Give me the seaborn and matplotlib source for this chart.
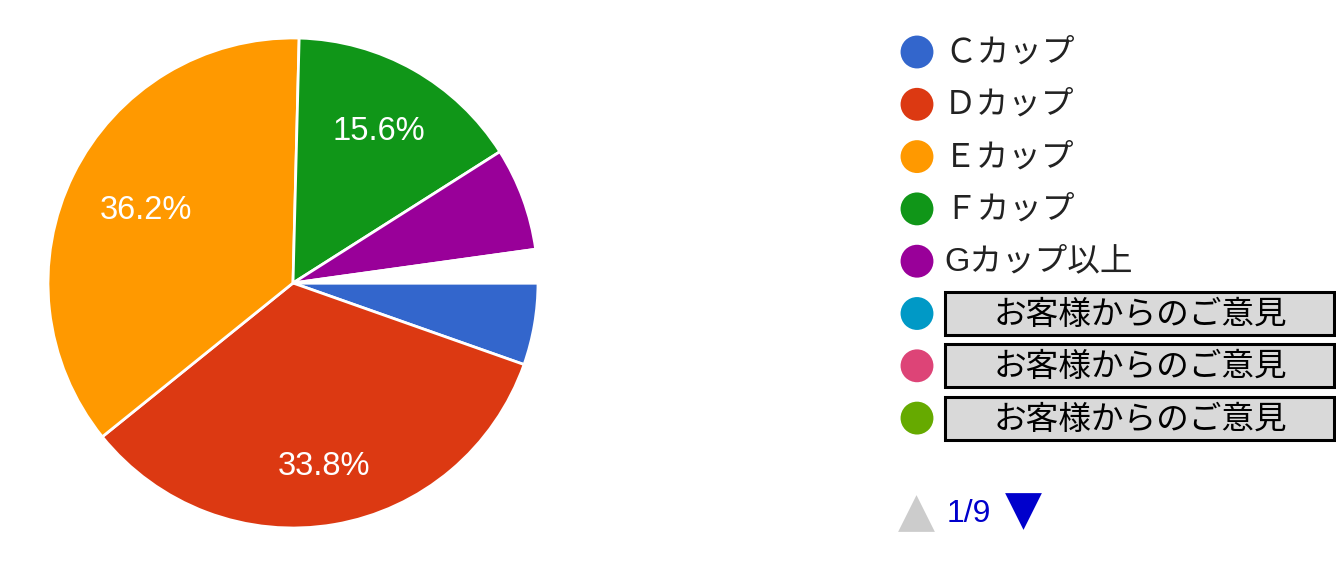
import matplotlib
matplotlib.use("Agg")
import matplotlib.pyplot as plt
import seaborn as sns
import numpy as np
from matplotlib.patches import Rectangle

# データ
labels = ["Ｃカップ", "Ｄカップ", "Ｅカップ", "Ｆカップ", "Gカップ以上"]
values = [5.4, 33.8, 36.2, 15.6, 6.8]
other_value = 2.2  # 残り（白い部分）
extra_labels = ["お客様からのご意見", "お客様からのご意見", "お客様からのご意見"]
colors = ["#3366cc", "#dc3912", "#ff9900", "#109618", "#990099"]
extra_colors = ["#0099c6", "#dd4477", "#66aa00"]
page_text = "1/9"

sns.set_theme(style="white")
plt.rcParams['font.family'] = ['Liberation Sans', 'Noto Sans CJK JP', 'DejaVu Sans']

W, H = 1336, 581
fig = plt.figure(figsize=(W / 100, H / 100), dpi=100)

# 円グラフ
r = 245
cx, cy = 293, 283
ax = fig.add_axes([(cx - r) / W, (H - cy - r) / H, 2 * r / W, 2 * r / H])
wedges, texts, autotexts = ax.pie(
    values + [other_value],
    colors=colors + ["white"],
    startangle=0,
    counterclock=False,
    autopct=lambda p: f"{p:.1f}%" if p > 10 else "",
    pctdistance=0.71,
    wedgeprops=dict(edgecolor="white", linewidth=2),
    textprops=dict(color="white", fontsize=23.5),
)
# ラベル位置の微調整（スライスごとの距離）
label_dist = [0.71, 0.76, 0.67, 0.71, 0.71, 0.71]
for t, d in zip(autotexts, label_dist):
    x, y = t.get_position()
    n = np.hypot(x, y)
    if n > 0:
        t.set_position((x / n * d, y / n * d))
ax.set_xlim(-1, 1)
ax.set_ylim(-1, 1)
ax.set_aspect("equal")

# 凡例
lg = fig.add_axes([0, 0, 1, 1])
lg.set_xlim(0, W)
lg.set_ylim(H, 0)
lg.axis("off")

y0, step = 52, 52.3
all_colors = colors + extra_colors
lg.scatter([917] * len(all_colors), [y0 + i * step for i in range(len(all_colors))],
           s=560, c=all_colors, linewidths=0, zorder=3)

for i, lab in enumerate(labels):
    lg.text(944, y0 + i * step + 1, lab, fontsize=23.5, color="#222222", va="center", ha="left")

for j, lab in enumerate(extra_labels):
    y = y0 + (len(labels) + j) * step
    lg.add_patch(Rectangle((945, y - 21.5), 389, 43, facecolor="#d9d9d9",
                           edgecolor="black", linewidth=2.2, zorder=2))
    lg.text(1140, y + 2, lab, fontsize=23.5, color="black", va="center", ha="center", zorder=3)

# ページ送り
lg.scatter([916], [513], marker="^", s=700, c="#cccccc", linewidths=0)
lg.text(947, 514, page_text, fontsize=23, color="#0000cc", va="center", ha="left")
lg.scatter([1023], [511], marker="v", s=700, c="#0000cc", linewidths=0)

plt.savefig("out.png", dpi=100)
plt.close()
